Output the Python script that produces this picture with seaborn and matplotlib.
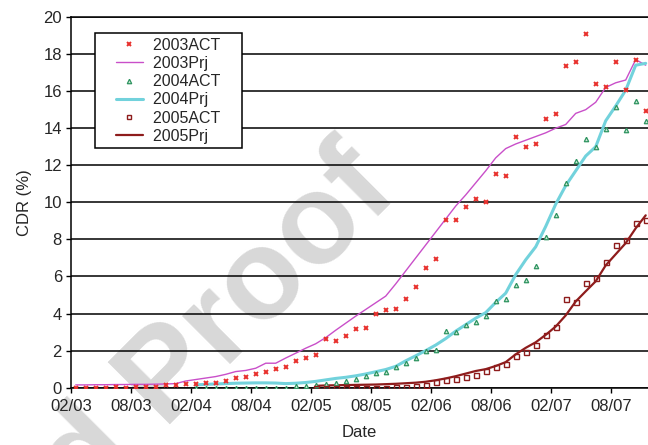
import numpy as np
import pandas as pd
import matplotlib
matplotlib.use("Agg")
import matplotlib.pyplot as plt
import seaborn as sns
from matplotlib.lines import Line2D
from matplotlib.legend_handler import HandlerLine2D

# ---------------- data (monthly, month index 0 = Feb 2003) ----------------
tick_labels = ["02/03", "08/03", "02/04", "08/04", "02/05",
               "08/05", "02/06", "08/06", "02/07", "08/07"]
tick_months = [0, 6, 12, 18, 24, 30, 36, 42, 48, 54]

start_2003 = 0
act_2003 = [0.0, 0.0, 0.0, 0.0, 0.03, 0.0, 0.03, 0.03, 0.05, 0.14,
            0.14, 0.2, 0.2, 0.27, 0.27, 0.36, 0.5, 0.6, 0.72, 0.87,
            1.0, 1.12, 1.44, 1.61, 1.76, 2.65, 2.5, 2.79, 3.18, 3.2,
            3.97, 4.17, 4.26, 4.81, 5.45, 6.45, 6.95, 9.03, 9.04, 9.75,
            10.16, 10.04, 11.51, 11.42, 13.51, 12.97, 13.14, 14.5, 14.76, 17.35,
            17.59, 19.08, 16.36, 16.23, 17.59, 16.05, 17.69, 14.95]
prj_2003 = [0.15, 0.15, 0.16, 0.16, 0.17, 0.17, 0.18, 0.18, 0.19, 0.2,
            0.22, 0.36, 0.44, 0.52, 0.6, 0.72, 0.87, 0.93, 1.05, 1.32,
            1.32, 1.6, 1.86, 2.13, 2.37, 2.7, 3.1, 3.48, 3.86, 4.22,
            4.58, 4.94, 5.6, 6.3, 7.0, 7.7, 8.4, 9.1, 9.8, 10.4,
            11.05, 11.7, 12.4, 12.9, 13.15, 13.35, 13.55, 13.75, 14.0, 14.2,
            14.8, 15.0, 15.4, 16.2, 16.45, 16.6, 17.7, 17.4]

start_2004 = 12
act_2004 = [0.0, 0.0, 0.0, 0.0, 0.0, 0.0, 0.0, 0.0, 0.0, 0.0,
            0.07, 0.07, 0.12, 0.2, 0.25, 0.37, 0.45, 0.62, 0.79, 0.84,
            1.1, 1.31, 1.6, 2.0, 2.02, 3.06, 2.99, 3.37, 3.52, 3.85,
            4.67, 4.77, 5.56, 5.81, 6.56, 8.15, 9.3, 11.06, 12.23, 13.41,
            12.97, 13.95, 15.17, 13.91, 15.46, 14.4]
prj_2004 = [0.15, 0.18, 0.2, 0.22, 0.24, 0.25, 0.26, 0.26, 0.25, 0.22,
            0.24, 0.28, 0.34, 0.42, 0.5, 0.56, 0.64, 0.74, 0.86, 0.98,
            1.15, 1.45, 1.72, 2.0, 2.3, 2.65, 3.05, 3.4, 3.75, 4.05,
            4.6, 5.1, 6.1, 6.9, 7.6, 8.7, 9.9, 10.9, 11.7, 12.5,
            13.0, 14.4, 15.2, 16.05, 17.4, 17.5]

start_2005 = 24
act_2005 = [0.0, 0.0, 0.0, 0.0, 0.0, 0.0, 0.0, 0.0, 0.03, 0.06,
            0.1, 0.17, 0.28, 0.41, 0.47, 0.59, 0.7, 0.9, 1.14, 1.29,
            1.72, 1.93, 2.32, 2.83, 3.3, 4.78, 4.64, 5.66, 5.93, 6.79,
            7.71, 7.98, 8.91, 9.03]
prj_2005 = [0.1, 0.12, 0.13, 0.14, 0.15, 0.16, 0.17, 0.19, 0.21, 0.24,
            0.27, 0.32, 0.4, 0.5, 0.62, 0.76, 0.9, 1.0, 1.17, 1.38,
            1.8, 2.15, 2.45, 2.85, 3.3, 3.9, 4.65, 5.2, 5.74, 6.6,
            7.2, 7.8, 8.6, 9.3]

labels = ["2003ACT", "2003Prj", "2004ACT", "2004Prj", "2005ACT", "2005Prj"]

# ---------------- style ----------------
sns.set_style("white")
plt.rcParams["font.family"] = ["Liberation Sans", "DejaVu Sans"]

C03A, C03P = "#e8302c", "#c94fc9"
C04A, C04P = "#2e9460", "#72d2dc"
C05 = "#8e1c1c"
MID = 0.47  # points sit mid-month


def frame(start, vals):
    return pd.DataFrame({"x": np.arange(len(vals)) + start + MID, "y": vals})


fig = plt.figure(figsize=(6.48, 4.45), dpi=100)
fig.patch.set_facecolor("white")
ax = fig.add_axes([0.1096, 0.1288, 0.8904, 0.833])
ax.patch.set_alpha(0)

# watermark behind the axes
fig.text(0.338, 0.262, "d Proof", rotation=45, fontsize=92, weight="bold",
         color="#d8d8d8", ha="center", va="center", zorder=-1,
         rotation_mode="anchor")

d03a, d03p = frame(start_2003, act_2003), frame(start_2003, prj_2003)
d04a, d04p = frame(start_2004, act_2004), frame(start_2004, prj_2004)
d05a, d05p = frame(start_2005, act_2005), frame(start_2005, prj_2005)

sns.lineplot(data=d03p, x="x", y="y", ax=ax, color=C03P, linewidth=1.0, zorder=3)
sns.lineplot(data=d04p, x="x", y="y", ax=ax, color=C04P, linewidth=2.2, zorder=3)
sns.lineplot(data=d05p, x="x", y="y", ax=ax, color=C05, linewidth=1.6, zorder=3)

sns.lineplot(data=d03a, x="x", y="y", ax=ax, linestyle="", marker="x",
             markersize=3.3, color=C03A, markeredgecolor=C03A,
             markeredgewidth=1.4, zorder=4)
sns.lineplot(data=d04a, x="x", y="y", ax=ax, linestyle="", marker="^",
             markersize=3.2, color=C04A, markeredgecolor=C04A,
             markerfacecolor="#cfe9d8", markeredgewidth=0.9, zorder=4)
sns.lineplot(data=d05a, x="x", y="y", ax=ax, linestyle="", marker="s",
             markersize=3.6, color=C05, markeredgecolor=C05,
             markerfacecolor="none", markeredgewidth=1.0, zorder=4)

ax.set_xlim(0, 57.7)
ax.set_ylim(0, 20)
ax.set_yticks(np.arange(0, 21, 2))
ax.set_xticks(tick_months)
ax.set_xticklabels(tick_labels)
ax.yaxis.grid(True, color="black", linewidth=1.1)
ax.xaxis.grid(False)
ax.set_axisbelow(True)
ax.spines["right"].set_visible(False)
for s in ["left", "bottom", "top"]:
    ax.spines[s].set_color("black")
    ax.spines[s].set_linewidth(1.1)
ax.tick_params(axis="both", which="major", labelsize=12, length=3.5,
               width=1.0, color="black", direction="out",
               left=True, bottom=True)
ax.tick_params(axis="y", pad=3)
ax.tick_params(axis="x", pad=4.5)
ax.set_xlabel("Date", fontsize=12, labelpad=8)
ax.set_ylabel("CDR (%)", fontsize=12, labelpad=8)

handles = [
    Line2D([], [], linestyle="", marker="x", markersize=3.3, color=C03A, markeredgewidth=1.4),
    Line2D([], [], color=C03P, linewidth=1.0),
    Line2D([], [], linestyle="", marker="^", markersize=3.2, color=C04A,
           markerfacecolor="#cfe9d8", markeredgewidth=0.9),
    Line2D([], [], color=C04P, linewidth=2.2),
    Line2D([], [], linestyle="", marker="s", markersize=3.3, color=C05,
           markerfacecolor="none", markeredgewidth=1.0),
    Line2D([], [], color=C05, linewidth=1.6),
]
leg = ax.legend(handles, [l + "    " for l in labels], loc="upper left",
                bbox_to_anchor=(0.0416, 0.957), borderaxespad=0,
                fontsize=11.5, frameon=True, fancybox=False, framealpha=1,
                edgecolor="black", borderpad=0.3, labelspacing=0.2,
                handlelength=2.7, handletextpad=0.6,
                handler_map={Line2D: HandlerLine2D(xpad=1.0, numpoints=1)})
leg.get_frame().set_linewidth(1.1)
leg.set_zorder(10)

fig.savefig("out.png", dpi=100)
